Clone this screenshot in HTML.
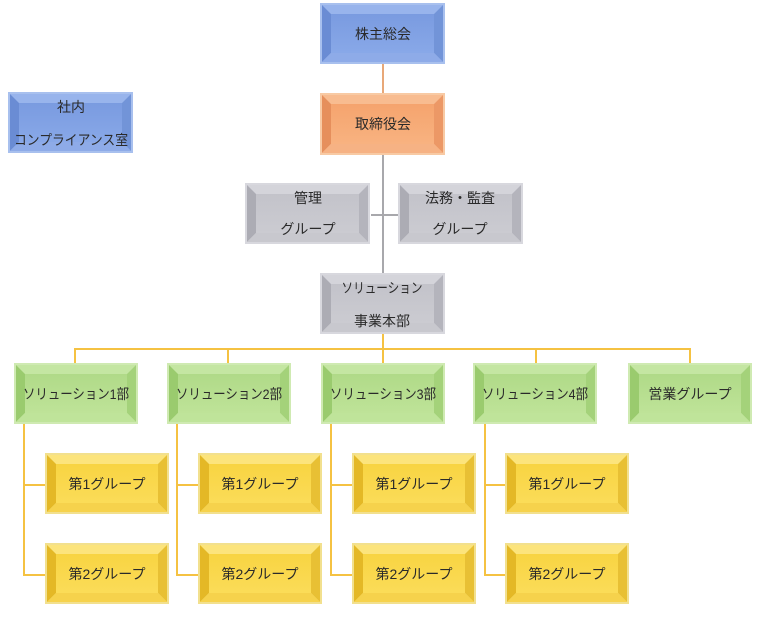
<!DOCTYPE html>
<html><head><meta charset="utf-8"><style>
html,body{margin:0;padding:0;background:#fff;}
svg{display:block;}
text{font-family:"Liberation Sans","Noto Sans CJK JP",sans-serif;font-size:14px;fill:#2a2a2a;text-anchor:middle;dominant-baseline:central;}
</style></head><body>
<svg width="768" height="624" viewBox="0 0 768 624" xmlns="http://www.w3.org/2000/svg">
<defs>
<linearGradient id="fb" x1="0" y1="0" x2="0" y2="1"><stop offset="0" stop-color="#7a9be0"/><stop offset="1" stop-color="#88a8e8"/></linearGradient>
<linearGradient id="fo" x1="0" y1="0" x2="0" y2="1"><stop offset="0" stop-color="#f5a46e"/><stop offset="1" stop-color="#f8b280"/></linearGradient>
<linearGradient id="fg" x1="0" y1="0" x2="0" y2="1"><stop offset="0" stop-color="#c3c3ca"/><stop offset="1" stop-color="#cbcbd1"/></linearGradient>
<linearGradient id="fn" x1="0" y1="0" x2="0" y2="1"><stop offset="0" stop-color="#b0da88"/><stop offset="1" stop-color="#bee398"/></linearGradient>
<linearGradient id="fy" x1="0" y1="0" x2="0" y2="1"><stop offset="0" stop-color="#f8d442"/><stop offset="1" stop-color="#fbdc58"/></linearGradient>

<g id="blue">
<rect x="0" y="0" width="125" height="61" fill="#a8c0ee"/>
<polygon points="2,2 123,2 114,11 11,11" fill="#98b4ec"/>
<polygon points="2,2 11,11 11,50 2,59" fill="#6a8cd4"/>
<polygon points="123,2 123,59 114,50 114,11" fill="#7294d8"/>
<polygon points="2,59 11,50 114,50 123,59" fill="#8eabe8"/>
<rect x="11" y="11" width="103" height="39" fill="url(#fb)"/>
</g>
<g id="orange">
<rect x="0" y="0" width="125" height="62" fill="#f8caa4"/>
<polygon points="2,2 123,2 114,11 11,11" fill="#f8bc90"/>
<polygon points="2,2 11,11 11,51 2,60" fill="#e68f5c"/>
<polygon points="123,2 123,60 114,51 114,11" fill="#ec9866"/>
<polygon points="2,60 11,51 114,51 123,60" fill="#f6b284"/>
<rect x="11" y="11" width="103" height="40" fill="url(#fo)"/>
</g>
<g id="gray">
<rect x="0" y="0" width="125" height="61" fill="#d8d8de"/>
<polygon points="2,2 123,2 114,11 11,11" fill="#d4d4da"/>
<polygon points="2,2 11,11 11,50 2,59" fill="#acacb4"/>
<polygon points="123,2 123,59 114,50 114,11" fill="#b4b4bc"/>
<polygon points="2,59 11,50 114,50 123,59" fill="#c8c8ce"/>
<rect x="11" y="11" width="103" height="39" fill="url(#fg)"/>
</g>
<g id="green">
<rect x="0" y="0" width="124" height="61" fill="#cfeab2"/>
<polygon points="2,2 122,2 113,11 11,11" fill="#c4e6a2"/>
<polygon points="2,2 11,11 11,50 2,59" fill="#9acb6e"/>
<polygon points="122,2 122,59 113,50 113,11" fill="#a4d27a"/>
<polygon points="2,59 11,50 113,50 122,59" fill="#bfe49a"/>
<rect x="11" y="11" width="102" height="39" fill="url(#fn)"/>
</g>
<g id="yel">
<rect x="0" y="0" width="124" height="61" fill="#f2e08e"/>
<polygon points="2,2 122,2 113,11 11,11" fill="#fce47c"/>
<polygon points="2,2 11,11 11,50 2,59" fill="#e4b826"/>
<polygon points="122,2 122,59 113,50 113,11" fill="#e8c034"/>
<polygon points="2,59 11,50 113,50 122,59" fill="#f6d24c"/>
<rect x="11" y="11" width="102" height="39" fill="url(#fy)"/>
</g>
</defs>

<!-- connectors -->
<line x1="383" y1="64" x2="383" y2="93" stroke="#e8a878" stroke-width="2"/>
<line x1="383" y1="155" x2="383" y2="273" stroke="#a8a8ac" stroke-width="2"/>
<line x1="371" y1="215" x2="398" y2="215" stroke="#a8a8ac" stroke-width="2"/>
<g stroke="#f5c242" stroke-width="2" fill="none">
<line x1="383" y1="333" x2="383" y2="363"/>
<line x1="75" y1="349" x2="690" y2="349"/>
<line x1="75" y1="348" x2="75" y2="363"/>
<line x1="228" y1="348" x2="228" y2="363"/>
<line x1="536" y1="348" x2="536" y2="363"/>
<line x1="690" y1="348" x2="690" y2="363"/>
<polyline points="24,424 24,575 45,575"/><line x1="24" y1="485" x2="45" y2="485"/>
<polyline points="177,424 177,575 198,575"/><line x1="177" y1="485" x2="198" y2="485"/>
<polyline points="331,424 331,575 352,575"/><line x1="331" y1="485" x2="352" y2="485"/>
<polyline points="485,424 485,575 505,575"/><line x1="485" y1="485" x2="505" y2="485"/>
</g>

<!-- boxes -->
<use href="#blue" x="320" y="3"/>
<use href="#orange" x="320" y="93"/>
<use href="#blue" x="8" y="92"/>
<use href="#gray" x="245" y="183"/>
<use href="#gray" x="398" y="183"/>
<use href="#gray" x="320" y="273"/>

<use href="#green" x="14" y="363"/>
<use href="#green" x="167" y="363"/>
<use href="#green" x="321" y="363"/>
<use href="#green" x="473" y="363"/>
<use href="#green" x="628" y="363"/>

<use href="#yel" x="45" y="453"/>
<use href="#yel" x="45" y="543"/>
<use href="#yel" x="198" y="453"/>
<use href="#yel" x="198" y="543"/>
<use href="#yel" x="352" y="453"/>
<use href="#yel" x="352" y="543"/>
<use href="#yel" x="505" y="453"/>
<use href="#yel" x="505" y="543"/>

<!-- text -->
<text x="383" y="34">株主総会</text>
<text x="383" y="124">取締役会</text>
<text x="71" y="107">社内</text>
<text x="71" y="140" textLength="114" lengthAdjust="spacingAndGlyphs">コンプライアンス室</text>
<text x="308" y="198">管理</text>
<text x="308" y="229">グループ</text>
<text x="460" y="198">法務・監査</text>
<text x="460" y="229">グループ</text>
<text x="382" y="288" textLength="81" lengthAdjust="spacingAndGlyphs">ソリューション</text>
<text x="382" y="321">事業本部</text>

<text x="76" y="394" textLength="106" lengthAdjust="spacingAndGlyphs">ソリューション1部</text>
<text x="229" y="394" textLength="106" lengthAdjust="spacingAndGlyphs">ソリューション2部</text>
<text x="383" y="394" textLength="106" lengthAdjust="spacingAndGlyphs">ソリューション3部</text>
<text x="535" y="394" textLength="106" lengthAdjust="spacingAndGlyphs">ソリューション4部</text>
<text x="690" y="394">営業グループ</text>

<text x="107" y="484">第1グループ</text>
<text x="107" y="574">第2グループ</text>
<text x="260" y="484">第1グループ</text>
<text x="260" y="574">第2グループ</text>
<text x="414" y="484">第1グループ</text>
<text x="414" y="574">第2グループ</text>
<text x="567" y="484">第1グループ</text>
<text x="567" y="574">第2グループ</text>
</svg>
</body></html>
